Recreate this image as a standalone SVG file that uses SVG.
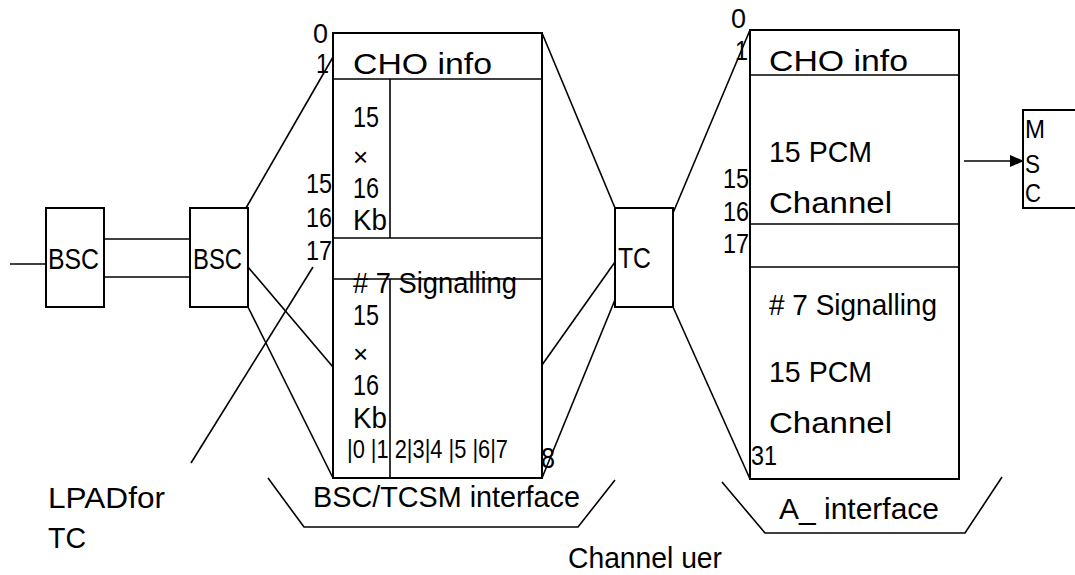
<svg xmlns="http://www.w3.org/2000/svg" width="1075" height="575" viewBox="0 0 1075 575">
<style>
  text { font-family: "Liberation Sans", Arial, sans-serif; font-size: 29px; fill: #000; }
  .sm { font-size: 26px; }
  .num { font-size: 28px; }
  .box { fill: #fff; stroke: #000; stroke-width: 2; }
  .ln { stroke: #000; stroke-width: 1.6; fill: none; }
</style>
<defs>
  <marker id="arr" markerWidth="14" markerHeight="12" refX="13" refY="6" orient="auto" markerUnits="userSpaceOnUse">
    <path d="M0,0 L14,6 L0,12 Z" fill="#000"/>
  </marker>
</defs>
<rect width="1075" height="575" fill="#fff"/>

<g id="connectors">
  <line class="ln" x1="10" y1="264" x2="46" y2="264"/>
  <line class="ln" x1="104" y1="239" x2="190" y2="239"/>
  <line class="ln" x1="104" y1="277" x2="190" y2="277"/>
  <line class="ln" x1="246" y1="208" x2="333" y2="57"/>
  <line class="ln" x1="248" y1="267" x2="333" y2="367"/>
  <line class="ln" x1="248" y1="307" x2="333" y2="478"/>
  <line class="ln" x1="191" y1="463" x2="313" y2="267"/>
  <line class="ln" x1="542" y1="33" x2="615" y2="208"/>
  <line class="ln" x1="673" y1="213" x2="750" y2="30"/>
  <line class="ln" x1="542" y1="365" x2="615" y2="262"/>
  <line class="ln" x1="542" y1="478" x2="619" y2="290"/>
  <line class="ln" x1="673" y1="307" x2="750" y2="479"/>
  <line class="ln" x1="964" y1="161" x2="1023" y2="161" marker-end="url(#arr)"/>
  <polyline class="ln" points="268,478 304,527 578,527 615,480"/>
  <polyline class="ln" points="722,482 765,533 965,533 1002,477"/>
</g>

<g id="bsc1">
  <rect class="box" x="46" y="208" width="58" height="99"/>
  <text x="48" y="269" textLength="51" lengthAdjust="spacingAndGlyphs">BSC</text>
</g>
<g id="bsc2">
  <rect class="box" x="190" y="208" width="58" height="99"/>
  <text x="193" y="269" textLength="49" lengthAdjust="spacingAndGlyphs">BSC</text>
</g>

<g id="bsc-tcsm-frame">
  <rect class="box" x="333" y="33" width="209" height="445"/>
  <line class="ln" x1="333" y1="79" x2="542" y2="79"/>
  <line class="ln" x1="390" y1="79" x2="390" y2="238"/>
  <line class="ln" x1="333" y1="238" x2="542" y2="238"/>
  <line class="ln" x1="333" y1="279" x2="542" y2="279"/>
  <line class="ln" x1="390" y1="279" x2="390" y2="478"/>
  <text x="353" y="74" textLength="139" lengthAdjust="spacingAndGlyphs">CHO info</text>
  <text x="353" y="127" textLength="26" lengthAdjust="spacingAndGlyphs">15</text>
  <text class="sm" x="353" y="166">×</text>
  <text x="353" y="198" textLength="26" lengthAdjust="spacingAndGlyphs">16</text>
  <text x="353" y="230" textLength="34" lengthAdjust="spacingAndGlyphs">Kb</text>
  <text x="353" y="293" textLength="164" lengthAdjust="spacingAndGlyphs"># 7 Signalling</text>
  <text x="353" y="325" textLength="26" lengthAdjust="spacingAndGlyphs">15</text>
  <text class="sm" x="353" y="363">×</text>
  <text x="353" y="395" textLength="26" lengthAdjust="spacingAndGlyphs">16</text>
  <text x="353" y="428" textLength="34" lengthAdjust="spacingAndGlyphs">Kb</text>
  <text class="sm" x="347" y="458" textLength="161" lengthAdjust="spacingAndGlyphs">|0 |1  2|3|4 |5 |6|7</text>
  <text x="541" y="468" textLength="14" lengthAdjust="spacingAndGlyphs">8</text>
  <text class="num" x="313" y="43" textLength="15" lengthAdjust="spacingAndGlyphs">0</text>
  <text class="num" x="316" y="73" textLength="13" lengthAdjust="spacingAndGlyphs">1</text>
  <text class="num" x="306" y="193" textLength="26" lengthAdjust="spacingAndGlyphs">15</text>
  <text class="num" x="306" y="227" textLength="26" lengthAdjust="spacingAndGlyphs">16</text>
  <text class="num" x="306" y="260" textLength="26" lengthAdjust="spacingAndGlyphs">17</text>
  <text x="313" y="507" textLength="267" lengthAdjust="spacingAndGlyphs">BSC/TCSM interface</text>
</g>

<g id="tc">
  <rect class="box" x="615" y="208" width="58" height="99"/>
  <text x="618" y="268" textLength="33" lengthAdjust="spacingAndGlyphs">TC</text>
</g>

<g id="a-frame">
  <rect class="box" x="750" y="30" width="209" height="449"/>
  <line class="ln" x1="750" y1="75" x2="959" y2="75"/>
  <line class="ln" x1="750" y1="224" x2="959" y2="224"/>
  <line class="ln" x1="750" y1="267" x2="959" y2="267"/>
  <text x="769" y="71" textLength="139" lengthAdjust="spacingAndGlyphs">CHO info</text>
  <text x="769" y="162" textLength="103" lengthAdjust="spacingAndGlyphs">15 PCM</text>
  <text x="769" y="213" textLength="123" lengthAdjust="spacingAndGlyphs">Channel</text>
  <text x="769" y="315" textLength="168" lengthAdjust="spacingAndGlyphs"># 7 Signalling</text>
  <text x="769" y="382" textLength="103" lengthAdjust="spacingAndGlyphs">15 PCM</text>
  <text x="769" y="433" textLength="123" lengthAdjust="spacingAndGlyphs">Channel</text>
  <text class="num" x="731" y="28" textLength="15" lengthAdjust="spacingAndGlyphs">0</text>
  <text class="num" x="735" y="60" textLength="13" lengthAdjust="spacingAndGlyphs">1</text>
  <text class="num" x="723" y="188" textLength="26" lengthAdjust="spacingAndGlyphs">15</text>
  <text class="num" x="723" y="221" textLength="26" lengthAdjust="spacingAndGlyphs">16</text>
  <text class="num" x="723" y="253" textLength="26" lengthAdjust="spacingAndGlyphs">17</text>
  <text class="num" x="751" y="465" textLength="26" lengthAdjust="spacingAndGlyphs">31</text>
  <text x="779" y="519" textLength="160" lengthAdjust="spacingAndGlyphs">A_ interface</text>
</g>

<g id="msc">
  <rect class="box" x="1023" y="110" width="80" height="98"/>
  <text class="sm" x="1025" y="138" textLength="20" lengthAdjust="spacingAndGlyphs">M</text>
  <text class="sm" x="1025" y="173" textLength="15" lengthAdjust="spacingAndGlyphs">S</text>
  <text class="sm" x="1025" y="202" textLength="16" lengthAdjust="spacingAndGlyphs">C</text>
</g>

<g id="lpad-label">
  <text x="48" y="508" textLength="117" lengthAdjust="spacingAndGlyphs">LPADfor</text>
  <text x="48" y="548" textLength="38" lengthAdjust="spacingAndGlyphs">TC</text>
</g>

<g id="channel-uer-label">
  <text x="568" y="568" textLength="154" lengthAdjust="spacingAndGlyphs">Channel uer</text>
</g>
</svg>
